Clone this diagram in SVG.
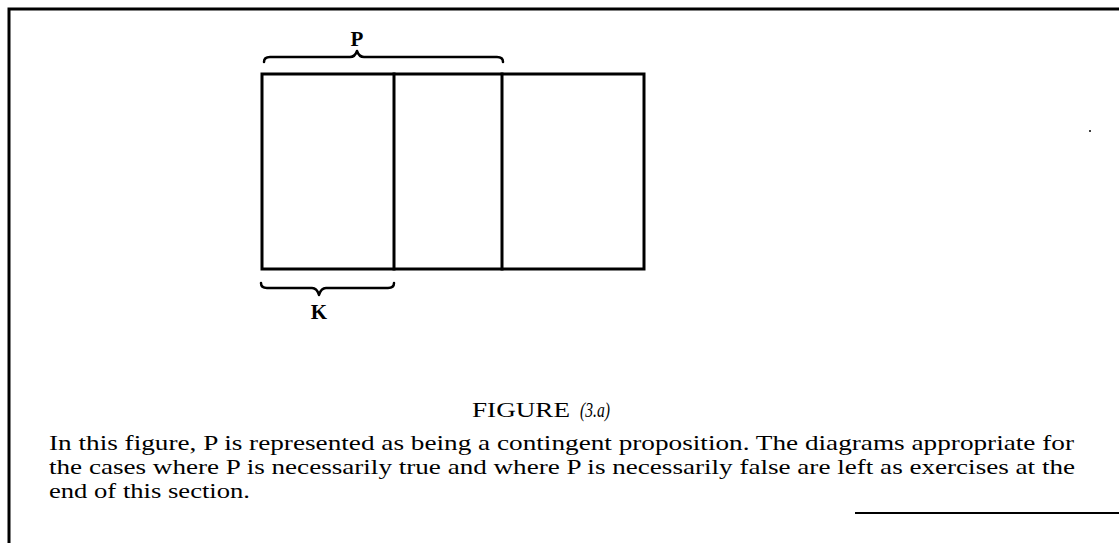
<svg xmlns="http://www.w3.org/2000/svg" width="1119" height="543" viewBox="0 0 1119 543">
<style>
.ln{stroke:#000;stroke-width:3;fill:none;stroke-linecap:square}
.br{stroke:#000;stroke-width:2.5;fill:none;stroke-linejoin:round;stroke-linecap:round}
.lbl{font-family:"Liberation Serif",serif;font-size:21px;fill:#000;font-weight:bold}
.txt{font-family:"Liberation Serif",serif;font-size:21.5px;fill:#000}
</style>
<rect width="1119" height="543" fill="#fff"/>
<g id="frame">
<path class="ln" d="M9,9 V543 M9,9 H1119"/>
<path d="M855,513 H1119" stroke="#000" stroke-width="2" fill="none"/>
<circle cx="1090" cy="131" r="1" fill="#000"/>
</g>
<g id="box">
<rect class="ln" x="262" y="74" width="382" height="195"/>
<path class="ln" d="M394,74 V269 M502,74 V269"/>
</g>
<g id="brace-P">
<path class="br" d="M264,62 Q264,57 270,57 H350 Q355,57 357,51 Q359,57 364,57 H497 Q503,57 503,62"/>
<text class="lbl" x="357" y="46" text-anchor="middle">P</text>
</g>
<g id="brace-K">
<path class="br" d="M261,283 Q261,288 267,288 H312 Q317,288 319,295 Q321,288 326,288 H388 Q394,288 394,283"/>
<text class="lbl" x="319" y="319" text-anchor="middle">K</text>
</g>
<g id="caption">
<text class="txt" x="472" y="417" textLength="98" lengthAdjust="spacingAndGlyphs">FIGURE</text>
<text class="txt" x="580" y="417" font-style="italic" textLength="30" lengthAdjust="spacingAndGlyphs">(3.a)</text>
<text class="txt" x="49" y="450" textLength="1025" lengthAdjust="spacingAndGlyphs">In this figure, P is represented as being a contingent proposition. The diagrams appropriate for</text>
<text class="txt" x="49" y="474" textLength="1026" lengthAdjust="spacingAndGlyphs">the cases where P is necessarily true and where P is necessarily false are left as exercises at the</text>
<text class="txt" x="49" y="498" textLength="201" lengthAdjust="spacingAndGlyphs">end of this section.</text>
</g>
</svg>
